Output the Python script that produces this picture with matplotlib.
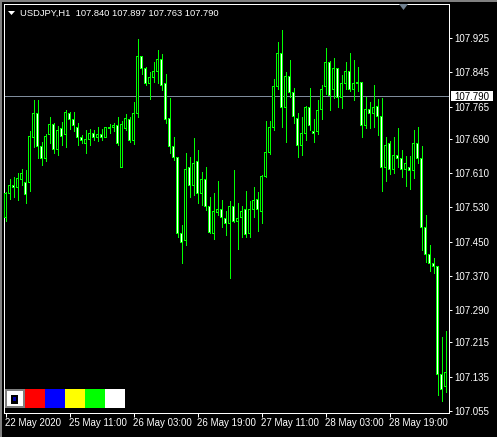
import matplotlib
matplotlib.use('Agg')
import matplotlib.pyplot as plt
from matplotlib.patches import Rectangle, Polygon
from matplotlib.transforms import IdentityTransform

# ---------------- data ----------------
symbol_header = "USDJPY,H1  107.840 107.897 107.763 107.790"
current_price = 107.790

opens = [107.507, 107.563, 107.580, 107.577, 107.596, 107.587, 107.587, 107.694, 107.750, 107.673,
         107.643, 107.699, 107.724, 107.666, 107.713, 107.699, 107.750, 107.736, 107.717, 107.694,
         107.680, 107.689, 107.703, 107.694, 107.701, 107.694, 107.717, 107.717, 107.722, 107.624,
         107.715, 107.736, 107.687, 107.750, 107.881, 107.853, 107.820, 107.832, 107.848, 107.874,
         107.818, 107.738, 107.671, 107.647, 107.470, 107.452, 107.622, 107.582, 107.636, 107.563,
         107.596, 107.531, 107.470, 107.519, 107.526, 107.503, 107.493, 107.531, 107.498, 107.507,
         107.526, 107.468, 107.524, 107.549, 107.521, 107.603, 107.657, 107.717, 107.811, 107.890,
         107.764, 107.836, 107.799, 107.738, 107.675, 107.703, 107.762, 107.706, 107.706, 107.759,
         107.811, 107.867, 107.806, 107.853, 107.787, 107.820, 107.848, 107.806, 107.820, 107.822,
         107.722, 107.759, 107.750, 107.766, 107.743, 107.624, 107.678, 107.619, 107.652, 107.643,
         107.619, 107.624, 107.615, 107.680, 107.645, 107.484, 107.419, 107.400, 107.393, 107.139,
         107.111]

highs = [107.566, 107.596, 107.601, 107.610, 107.619, 107.617, 107.708, 107.780, 107.780, 107.682,
         107.701, 107.741, 107.727, 107.720, 107.729, 107.757, 107.752, 107.752, 107.727, 107.699,
         107.710, 107.713, 107.710, 107.717, 107.713, 107.717, 107.724, 107.727, 107.741, 107.731,
         107.748, 107.741, 107.776, 107.923, 107.881, 107.857, 107.846, 107.869, 107.897, 107.888,
         107.841, 107.785, 107.694, 107.647, 107.489, 107.657, 107.647, 107.692, 107.664, 107.612,
         107.624, 107.554, 107.563, 107.591, 107.547, 107.521, 107.545, 107.617, 107.540, 107.533,
         107.568, 107.545, 107.577, 107.566, 107.605, 107.731, 107.731, 107.829, 107.916, 107.944,
         107.846, 107.874, 107.808, 107.750, 107.741, 107.766, 107.808, 107.736, 107.780, 107.815,
         107.902, 107.871, 107.878, 107.855, 107.839, 107.869, 107.890, 107.874, 107.857, 107.822,
         107.787, 107.776, 107.815, 107.783, 107.785, 107.694, 107.685, 107.694, 107.715, 107.664,
         107.650, 107.650, 107.710, 107.717, 107.673, 107.512, 107.442, 107.412, 107.393, 107.228,
         107.242]

lows = [107.498, 107.549, 107.554, 107.547, 107.582, 107.540, 107.568, 107.671, 107.645, 107.629,
        107.638, 107.680, 107.657, 107.652, 107.675, 107.671, 107.713, 107.708, 107.675, 107.680,
        107.657, 107.675, 107.687, 107.685, 107.687, 107.694, 107.703, 107.708, 107.675, 107.624,
        107.710, 107.682, 107.678, 107.741, 107.841, 107.815, 107.783, 107.822, 107.820, 107.804,
        107.727, 107.657, 107.640, 107.461, 107.400, 107.442, 107.554, 107.559, 107.540, 107.535,
        107.524, 107.470, 107.456, 107.512, 107.484, 107.466, 107.365, 107.496, 107.433, 107.461,
        107.461, 107.461, 107.507, 107.475, 107.493, 107.601, 107.654, 107.710, 107.806, 107.717,
        107.682, 107.787, 107.727, 107.647, 107.652, 107.687, 107.710, 107.682, 107.701, 107.736,
        107.794, 107.757, 107.785, 107.764, 107.762, 107.806, 107.801, 107.780, 107.801, 107.694,
        107.715, 107.715, 107.717, 107.699, 107.568, 107.591, 107.608, 107.610, 107.624, 107.601,
        107.580, 107.573, 107.598, 107.633, 107.431, 107.403, 107.382, 107.377, 107.092, 107.078,
        107.099]

closes = [107.563, 107.580, 107.577, 107.598, 107.608, 107.559, 107.696, 107.750, 107.671, 107.643,
          107.696, 107.724, 107.666, 107.710, 107.696, 107.752, 107.736, 107.720, 107.694, 107.685,
          107.689, 107.703, 107.694, 107.701, 107.694, 107.717, 107.713, 107.720, 107.678, 107.724,
          107.738, 107.687, 107.750, 107.881, 107.853, 107.820, 107.832, 107.848, 107.874, 107.815,
          107.736, 107.671, 107.647, 107.470, 107.447, 107.619, 107.582, 107.633, 107.563, 107.596,
          107.531, 107.472, 107.521, 107.526, 107.507, 107.493, 107.531, 107.498, 107.505, 107.521,
          107.466, 107.524, 107.545, 107.526, 107.603, 107.657, 107.717, 107.811, 107.890, 107.764,
          107.836, 107.797, 107.741, 107.675, 107.703, 107.762, 107.722, 107.703, 107.757, 107.806,
          107.867, 107.790, 107.853, 107.787, 107.818, 107.848, 107.806, 107.820, 107.822, 107.722,
          107.759, 107.750, 107.762, 107.741, 107.624, 107.675, 107.619, 107.652, 107.643, 107.619,
          107.633, 107.615, 107.680, 107.643, 107.484, 107.419, 107.400, 107.391, 107.139, 107.106,
          107.144]

time_tick_bars = [0, 16, 32, 48, 64, 80, 96]
time_tick_labels = ["22 May 2020", "25 May 11:00", "26 May 03:00", "26 May 19:00",
                    "27 May 11:00", "28 May 03:00", "28 May 19:00"]
price_ticks = [107.925, 107.845, 107.765, 107.690, 107.610, 107.530,
               107.450, 107.370, 107.290, 107.215, 107.135, 107.055]
palette_colors = ['#ff0000', '#0000ff', '#ffff00', '#00ff00', '#ffffff']

# ---------------- style ----------------
W, H = 497, 437
LIME = '#00ff00'
FONT = ['Liberation Sans', 'DejaVu Sans']
PX = 72 / 100.0  # one pixel in points
YMIN, YMAX = 107.0503, 108.0043
AX_H_PX = 409
PRICE_PER_PX = (YMAX - YMIN) / AX_H_PX

fig = plt.figure(figsize=(W / 100, H / 100), dpi=100, facecolor='black')
ax = fig.add_axes([4 / W, (H - 413) / H, 445 / W, AX_H_PX / H])
ax.set_facecolor('black')

n = len(opens)
idx = list(range(n))

# wicks
ax.vlines(idx, lows, highs, color=LIME, linewidth=PX, antialiased=False, zorder=2)

# bodies: lime outer 3px, 1px inner column filled black (bull) or white (bear)
for i in idx:
    o, c = opens[i], closes[i]
    bottom = min(o, c)
    height = max(abs(c - o), PRICE_PER_PX)
    ax.add_patch(Rectangle((i - 0.375, bottom - 0.5 * PRICE_PER_PX), 0.75,
                           height + PRICE_PER_PX, facecolor=LIME, edgecolor='none',
                           antialiased=False, zorder=3))
    inner_h = height - PRICE_PER_PX
    if inner_h > 0:
        face = 'black' if c > o else 'white'
        ax.add_patch(Rectangle((i - 0.125, bottom + 0.5 * PRICE_PER_PX), 0.25,
                               inner_h, facecolor=face, edgecolor='none',
                               antialiased=False, zorder=4))

ax.set_xlim(-0.375, 110.875)
ax.set_ylim(YMIN, YMAX)

# current price line
ax.axhline(current_price, color='#7f8c9c', linewidth=PX, zorder=1)

for s in ax.spines.values():
    s.set_color('white')
    s.set_linewidth(PX)

# y axis on right
ax.yaxis.tick_right()
ax.set_yticks(price_ticks)
ax.set_yticklabels([f"{v:.3f}" for v in price_ticks])
ax.tick_params(axis='y', which='both', right=True, left=False, labelright=True,
               labelleft=False, length=3 * PX, width=PX, pad=2.5 * PX,
               colors='white', labelsize=7)
for lab in ax.get_yticklabels():
    lab.set_fontfamily(FONT)

# x axis
ax.set_xticks(time_tick_bars)
ax.set_xticklabels([])
ax.tick_params(axis='x', which='both', bottom=True, top=False, length=4 * PX,
               width=PX, colors='white')
for b, lab in zip(time_tick_bars, time_tick_labels):
    ax.annotate(lab, xy=(b, 0), xycoords=('data', 'axes fraction'),
                xytext=(-0.5, -10), textcoords='offset pixels', ha='left',
                va='center', color='white', fontsize=7, family=FONT)

ID = IdentityTransform()

# current price label box
fig.add_artist(Rectangle((451, H - 101), 42, 10, transform=ID, facecolor='white',
                         edgecolor='none', zorder=5))
fig.text(472, H - 96.5, f"{current_price:.3f}", transform=ID, ha='center', va='center',
         color='black', fontsize=7, family=FONT, zorder=6)

# window borders
fig.add_artist(Rectangle((0, H - 2), W, 2, transform=ID, facecolor='#808080',
                         edgecolor='none'))
fig.add_artist(Rectangle((0, 0), 2, H, transform=ID, facecolor='#808080',
                         edgecolor='none'))

# header
fig.add_artist(Polygon([(8, H - 11), (15, H - 11), (11.5, H - 15)], closed=True,
                       transform=ID, facecolor='white', edgecolor='none'))
fig.text(20, H - 13, symbol_header, transform=ID, ha='left', va='center',
         color='white', fontsize=6.75, family=FONT)

# shift marker triangle
fig.add_artist(Polygon([(399, H - 4), (408, H - 4), (403.5, H - 10)], closed=True,
                       transform=ID, facecolor='#708090', edgecolor='none'))

# color palette boxes
ytop, ybot = 389, 408
fig.add_artist(Rectangle((5, H - ybot), 20, ybot - ytop, transform=ID,
                         facecolor='#808080', edgecolor='none'))
fig.add_artist(Rectangle((7, H - ybot + 2), 16, ybot - ytop - 4, transform=ID,
                         facecolor='white', edgecolor='none'))
fig.add_artist(Rectangle((11, H - 404), 7, 9, transform=ID, facecolor='black',
                         edgecolor='none'))
fig.add_artist(Rectangle((13, H - 401), 3, 4, transform=ID, facecolor='#0000aa',
                         edgecolor='none'))
for k, col in enumerate(palette_colors):
    fig.add_artist(Rectangle((25 + 20 * k, H - ybot), 20, ybot - ytop, transform=ID,
                             facecolor=col, edgecolor='none'))

fig.savefig('out.png', dpi=100, facecolor='black')
